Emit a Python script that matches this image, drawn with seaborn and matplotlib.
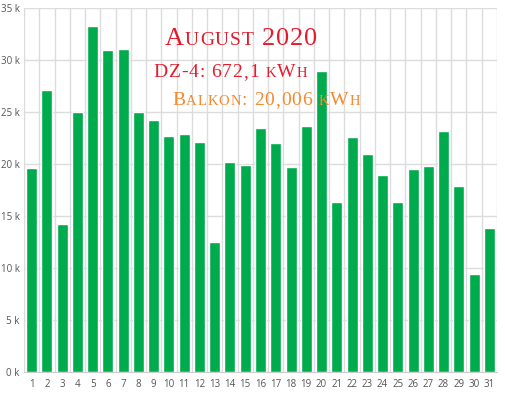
import numpy as np
import pandas as pd
import matplotlib
matplotlib.use("Agg")
import matplotlib.pyplot as plt
import seaborn as sns
from matplotlib.ticker import FixedLocator, FuncFormatter

# daily yield in Wh
days = list(range(1, 32))
energy_wh = [19600, 27100, 14200, 25000, 33300, 31000, 31100, 25000, 24200, 22700,
             22900, 22100, 12500, 20200, 19900, 23500, 22000, 19700, 23700, 28900,
             16300, 22600, 21000, 18900, 16300, 19500, 19800, 23200, 17900, 9450, 13800]
y_ticks = [0, 5000, 10000, 15000, 20000, 25000, 30000, 35000]

# small-caps imitation: (text, size in pt)
title_parts = [("A", 19), ("UGUST", 14), (" 2020", 19)]
dz_parts = [("DZ-4: 672,1 ", 14), ("K", 10.5), ("W", 14), ("H", 10.5)]
balkon_parts = [("B", 14), ("ALKON", 10.5), (": 20,006 ", 14), ("K", 10.5), ("W", 14), ("H", 10.5)]

df = pd.DataFrame({"day": days, "wh": energy_wh})

sns.set_style("white")
plt.rcParams['font.family'] = ['Open Sans', 'DejaVu Sans']

W, H = 505, 394
fig = plt.figure(figsize=(W / 100, H / 100), dpi=100)
ax = fig.add_axes([24 / W, 22 / H, (497 - 24) / W, (372 - 8) / H])

sns.barplot(data=df, x="day", y="wh", color="#00ab4e", saturation=1,
            width=0.72, ax=ax, zorder=3)

ax.set_xlim(-0.5, len(days) - 0.5)
ax.set_ylim(0, 35000)
ax.set_xlabel(None)
ax.set_ylabel(None)

# grid
ax.yaxis.set_major_locator(FixedLocator(y_ticks))
ax.yaxis.set_major_formatter(FuncFormatter(lambda v, p: f"{int(v / 1000)} k"))
ax.xaxis.set_minor_locator(FixedLocator(np.arange(-0.5, len(days), 1.0)))
ax.grid(axis="y", which="major", color="#dcdcdc", lw=1, zorder=0)
ax.grid(axis="x", which="minor", color="#dcdcdc", lw=1, zorder=0)
ax.grid(axis="x", which="major", visible=False)

for s in ["top", "left", "right"]:
    ax.spines[s].set_visible(False)
ax.spines["bottom"].set_color("#cccccc")

ax.tick_params(axis="x", which="major", length=0, pad=5, labelsize=7, labelcolor="#555555")
ax.tick_params(axis="x", which="minor", length=5, color="#cccccc", direction="out")
ax.tick_params(axis="y", length=0, pad=3, labelsize=7, labelcolor="#555555")

fig.canvas.draw()
renderer = fig.canvas.get_renderer()


def draw_parts(parts, x_px, y_px, color, tracking=0.9):
    # lay out letters left to right on a common baseline, with a little letter spacing
    x = x_px
    for txt, size in parts:
        for ch in txt:
            if ch == " ":
                x += size * 0.25 * 100 / 72 + tracking
                continue
            t = fig.text(x / W, 1 - y_px / H, ch, fontsize=size, color=color,
                         family=["Liberation Serif"], va="baseline", ha="left", zorder=10)
            x += t.get_window_extent(renderer).width + tracking


draw_parts(title_parts, 165, 45, "#e41b2c")
draw_parts(dz_parts, 153, 77, "#e41b2c")
draw_parts(balkon_parts, 172, 105, "#f58a2e")

fig.savefig("out.png", dpi=100)
